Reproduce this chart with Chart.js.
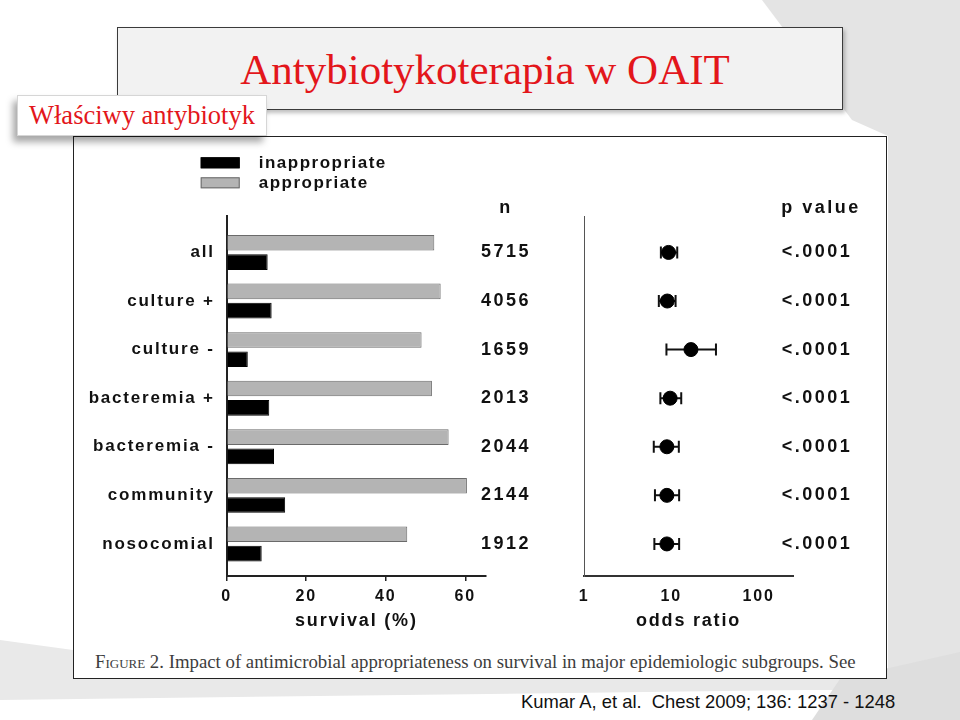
<!DOCTYPE html>
<html lang="pl">
<head>
<meta charset="utf-8">
<title>Antybiotykoterapia w OAIT</title>
<script src="https://cdn.jsdelivr.net/npm/chart.js@4.4.1/dist/chart.umd.min.js"></script>
<style>
  html, body { margin: 0; padding: 0; }
  body { width: 960px; height: 720px; position: relative; overflow: hidden; background: #fff;
         font-family: "Liberation Sans", Arial, sans-serif; }
  #decor { position: absolute; left: 0; top: 0; }
  .title-box { position: absolute; left: 117px; top: 27px; width: 724px; height: 81px; background: #f2f2f2;
               border: 1px solid #3a3a3a; box-shadow: 2px 3px 4px rgba(0,0,0,0.25); }
  .title { position: absolute; left: 122px; top: 49px; width: 726px; text-align: center; color: #e3161b;
           font: 43px/42px "Liberation Serif", "Times New Roman", serif; }
  .figure-box { position: absolute; left: 73px; top: 136px; width: 812px; height: 541px; background: #fff;
                border: 1px solid #222; }
  .subtitle-box { position: absolute; left: 17px; top: 95px; width: 248px; height: 39px; background: #fff;
                  border: 1px solid #d6d6d6; box-shadow: -4px 6px 7px rgba(0,0,0,0.35); }
  .subtitle { position: absolute; left: 29px; top: 103px; color: #e3161b; white-space: nowrap;
              font: 26.5px/25px "Liberation Serif", "Times New Roman", serif; }
  .caption { position: absolute; left: 95px; top: 653px; color: #3d3d3d; white-space: nowrap;
             font: 18.8px/18px "Liberation Serif", "Times New Roman", serif; }
  .caption .sc { font-variant: small-caps; }
  .source { position: absolute; left: 521px; top: 693px; color: #111; white-space: nowrap;
            font: 18.4px/18px "Liberation Sans", Arial, sans-serif; }
  canvas { position: absolute; }
  #survivalChart { left: 80px; top: 140px; }
  #oddsChart { left: 470px; top: 140px; }
</style>
</head>
<body>
<svg id="decor" width="960" height="720">
  <polygon points="762,0 960,0 960,720 888,720 888,136 852,120" fill="#e4e4e4"/>
  <polygon points="0,640 73,650 73,679 960,679 960,690 806,690 0,700" fill="#e9e9e9"/>
  <polygon points="840,679 960,652 960,720 812,720" fill="#dedede"/>
</svg>
<div class="title-box"></div>
<div class="title">Antybiotykoterapia w OAIT</div>
<div class="figure-box"></div>
<div class="subtitle-box"></div>
<div class="subtitle">Właściwy antybiotyk</div>
<canvas id="survivalChart" width="410" height="500"></canvas>
<canvas id="oddsChart" width="410" height="500"></canvas>
<div class="caption"><span class="sc">Figure</span> 2. Impact of antimicrobial appropriateness on survival in major epidemiologic subgroups. See</div>
<div class="source">Kumar A, et al.&nbsp; Chest 2009; 136: 1237 - 1248</div>

<script>
// Dane
var categories = ['all', 'culture +', 'culture -', 'bacteremia +', 'bacteremia -', 'community', 'nosocomial'];
var appropriate = [52.2, 53.8, 49.0, 51.6, 55.8, 60.4, 45.4];
var inappropriate = [10.3, 11.3, 5.3, 10.7, 11.9, 14.7, 8.8];
var survivalTicks = [0, 20, 40, 60];

var sampleSizes = ['5715', '4056', '1659', '2013', '2044', '2144', '1912'];
var oddsRatio = [9.3, 9.0, 16.8, 9.7, 8.9, 8.9, 8.9];
var ciLow = [7.6, 7.2, 8.8, 7.5, 6.3, 6.5, 6.4];
var ciHigh = [11.7, 11.2, 32.5, 13.0, 12.2, 12.3, 12.3];
var pValues = ['<.0001', '<.0001', '<.0001', '<.0001', '<.0001', '<.0001', '<.0001'];
var oddsTicks = [1, 10, 100];

var FONT = '"Liberation Sans", Arial, sans-serif';
Chart.defaults.font.family = FONT;
Chart.defaults.color = '#111';

// rozstrzelony tekst jak na oryginalnej rycinie
var spacingPlugin = {
    id: 'spacing',
    beforeUpdate: function (chart) { chart.ctx.letterSpacing = '1.8px'; },
    beforeDraw: function (chart) { chart.ctx.letterSpacing = '1.8px'; }
};

// legenda w dwóch wierszach nad osią (inappropriate na górze)
var legendPlugin = {
    id: 'stackedLegend',
    afterDraw: function (chart) {
        var ctx = chart.ctx;
        var area = chart.chartArea;
        var items = chart.data.datasets.slice().reverse();
        ctx.save();
        ctx.font = 'bold 17px ' + FONT;
        ctx.letterSpacing = '1.5px';
        ctx.textAlign = 'left';
        ctx.textBaseline = 'middle';
        items.forEach(function (ds, i) {
            var x = area.left - 26;
            var y = area.top - 58.7 + i * 20;
            ctx.fillStyle = ds.backgroundColor;
            ctx.fillRect(x, y, 39, 11);
            ctx.strokeStyle = ds.borderColor;
            ctx.lineWidth = 1;
            ctx.strokeRect(x + 0.5, y + 0.5, 38, 10);
            ctx.fillStyle = '#111';
            ctx.fillText(ds.label, x + 58, y + 6);
        });
        ctx.restore();
    }
};

// przedziały ufności
var errorBarPlugin = {
    id: 'errorBars',
    beforeDatasetsDraw: function (chart) {
        var ctx = chart.ctx;
        var xs = chart.scales.x, ys = chart.scales.y;
        ctx.save();
        ctx.strokeStyle = '#111';
        ctx.lineWidth = 2;
        ciLow.forEach(function (lo, i) {
            var x1 = xs.getPixelForValue(lo);
            var x2 = xs.getPixelForValue(ciHigh[i]);
            var y = ys.getPixelForValue(i);
            ctx.beginPath();
            ctx.moveTo(x1, y); ctx.lineTo(x2, y);
            ctx.moveTo(x1, y - 6); ctx.lineTo(x1, y + 6);
            ctx.moveTo(x2, y - 6); ctx.lineTo(x2, y + 6);
            ctx.stroke();
        });
        ctx.restore();
    }
};

// kolumny n oraz p value
var columnsPlugin = {
    id: 'columns',
    afterDraw: function (chart) {
        var ctx = chart.ctx;
        var area = chart.chartArea;
        var ys = chart.scales.y;
        var nX = area.left - 78;
        var pX = area.right + 24;
        ctx.save();
        ctx.font = 'bold 18px ' + FONT;
        ctx.letterSpacing = '2.5px';
        ctx.textAlign = 'center';
        ctx.textBaseline = 'middle';
        ctx.fillStyle = '#111';
        ctx.fillText('n', nX, area.top - 8);
        ctx.fillText('p value', pX + 4, area.top - 8);
        sampleSizes.forEach(function (n, i) {
            var y = ys.getPixelForValue(i);
            ctx.fillText(n, nX, y);
            ctx.fillText(pValues[i], pX, y);
        });
        ctx.restore();
    }
};

// 1. Przeżywalność (%)
new Chart(document.getElementById('survivalChart'), {
    type: 'bar',
    data: {
        datasets: [{
            label: 'appropriate',
            data: appropriate.map(function (v, i) { return { x: v, y: i }; }),
            backgroundColor: '#b4b4b4',
            borderColor: '#6a6a6a',
            borderWidth: 1,
            categoryPercentage: 0.795,
            barPercentage: 0.81
        }, {
            label: 'inappropriate',
            data: inappropriate.map(function (v, i) { return { x: v, y: i }; }),
            backgroundColor: '#000000',
            borderColor: '#000000',
            borderWidth: 1,
            categoryPercentage: 0.795,
            barPercentage: 0.81
        }]
    },
    options: {
        indexAxis: 'y',
        responsive: false,
        animation: false,
        layout: { padding: { left: 0, right: 4, top: 76, bottom: 0 } },
        plugins: { legend: { display: false }, tooltip: { enabled: false } },
        scales: {
            x: {
                type: 'linear',
                min: 0,
                max: 65.2,
                bounds: 'data',
                afterBuildTicks: function (s) { s.ticks = survivalTicks.map(function (v) { return { value: v }; }); },
                afterFit: function (s) { s.height = 64; },
                ticks: { font: { size: 16, weight: 'bold' }, padding: 6, maxRotation: 0, autoSkip: false,
                         callback: function (v) { return String(v); } },
                grid: { display: true, drawOnChartArea: false, drawTicks: true, tickLength: 5, color: '#222', lineWidth: 1.5 },
                border: { display: true, color: '#222', width: 2 },
                title: { display: true, text: 'survival (%)', font: { size: 18, weight: 'bold' }, padding: { top: 0, bottom: 8 } }
            },
            y: {
                type: 'linear',
                reverse: true,
                offset: false,
                min: -0.75,
                max: 6.66,
                bounds: 'data',
                afterBuildTicks: function (s) { s.ticks = categories.map(function (c, i) { return { value: i }; }); },
                afterFit: function (s) { s.width = 146.7; },
                ticks: { font: { size: 17, weight: 'bold' }, padding: 12, autoSkip: false,
                         callback: function (v) { return categories[v]; } },
                grid: { display: false, drawTicks: false },
                border: { display: true, color: '#222', width: 2 }
            }
        }
    },
    plugins: [spacingPlugin, legendPlugin]
});

// 2. Iloraz szans (skala logarytmiczna)
new Chart(document.getElementById('oddsChart'), {
    type: 'scatter',
    data: {
        datasets: [{
            label: 'odds ratio',
            data: oddsRatio.map(function (v, i) { return { x: v, y: i }; }),
            backgroundColor: '#000000',
            borderColor: '#000000',
            pointRadius: 7,
            pointHoverRadius: 7
        }]
    },
    options: {
        responsive: false,
        animation: false,
        layout: { padding: { left: 0, right: 87, top: 76, bottom: 0 } },
        plugins: { legend: { display: false }, tooltip: { enabled: false } },
        scales: {
            x: {
                type: 'logarithmic',
                min: 1,
                max: 248,
                bounds: 'data',
                afterBuildTicks: function (s) { s.ticks = oddsTicks.map(function (v) { return { value: v }; }); },
                afterFit: function (s) { s.height = 64; },
                ticks: { font: { size: 16, weight: 'bold' }, padding: 6, maxRotation: 0, autoSkip: false,
                         callback: function (v) { return String(v); } },
                grid: { display: true, drawOnChartArea: false, drawTicks: true, tickLength: 5, color: 'rgba(0,0,0,0)' },
                border: { display: true, color: '#333', width: 2 },
                title: { display: true, text: 'odds ratio', font: { size: 18, weight: 'bold' }, padding: { top: 0, bottom: 8 } }
            },
            y: {
                type: 'linear',
                reverse: true,
                offset: false,
                min: -0.75,
                max: 6.66,
                bounds: 'data',
                afterFit: function (s) { s.width = 114; },
                ticks: { display: false },
                grid: { display: false, drawTicks: false },
                border: { display: true, color: '#555', width: 1, dash: [5, 4] }
            }
        }
    },
    plugins: [spacingPlugin, errorBarPlugin, columnsPlugin]
});
</script>
</body>
</html>
